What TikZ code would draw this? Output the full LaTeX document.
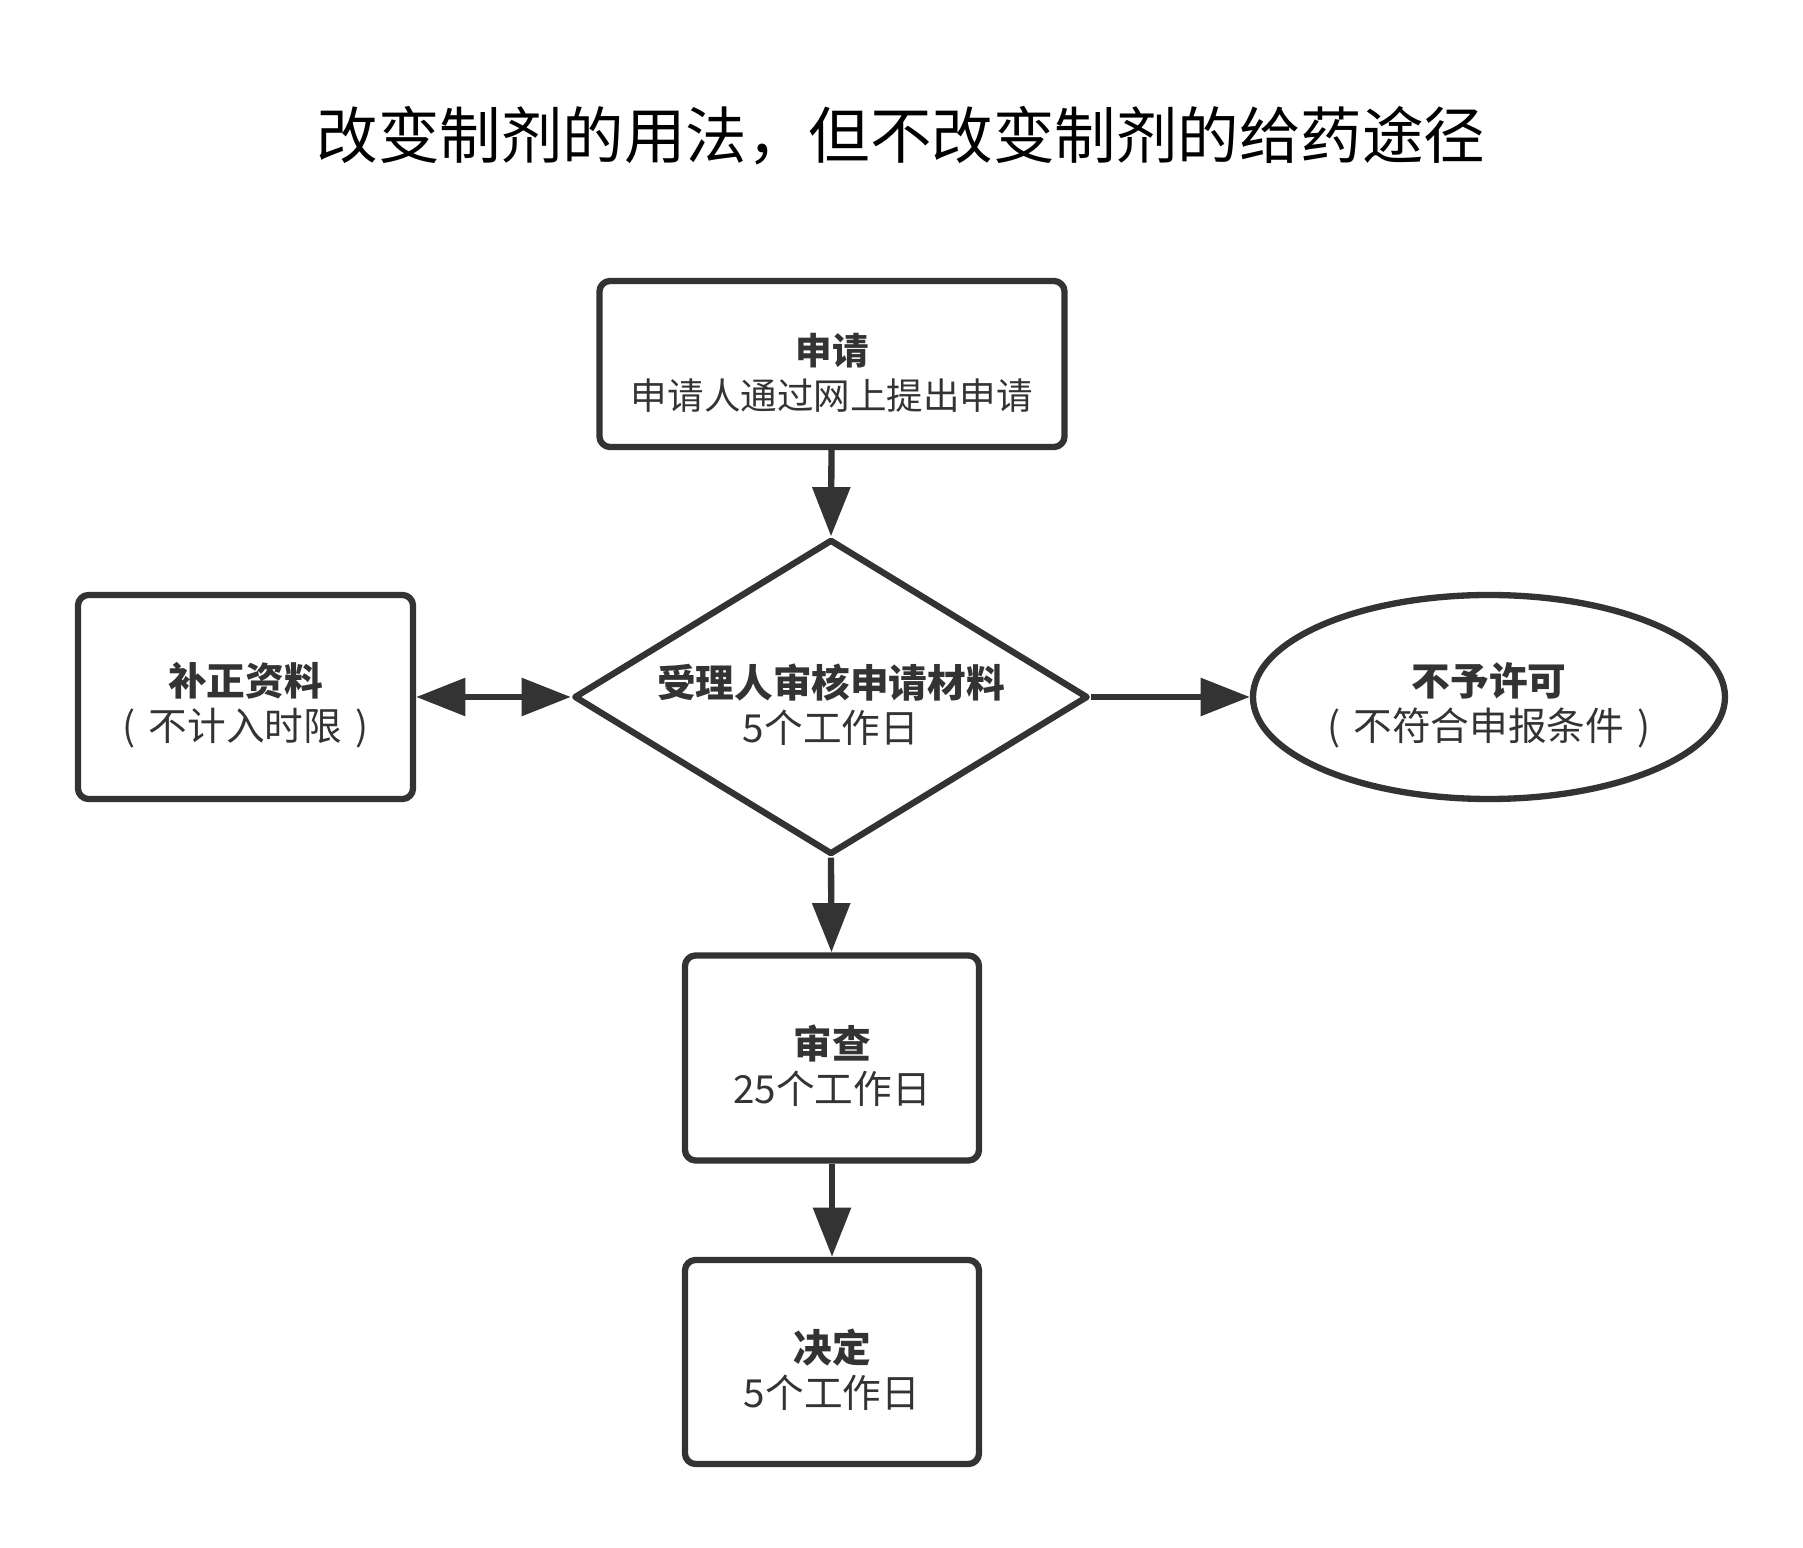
\documentclass[tikz,border=0pt]{standalone}
\usepackage{fontspec}
\setmainfont{Noto Sans CJK SC}
\usetikzlibrary{shapes.geometric,arrows.meta}
\definecolor{ink}{HTML}{333333}
\newcommand{\gap}{\hspace{0.34em}}
\newcommand{\hd}[1]{\rule{0pt}{14pt}\textbf{#1}}
\begin{document}
\begin{tikzpicture}[x=1cm,y=-1cm,>={Triangle[length=14pt,width=10.5pt]}, line join=round,
    font=\fontsize{11}{12.8}\selectfont]
	\tikzset{every node/.style={text=ink, align=center, inner sep=0pt},
		stepbox/.style={draw=ink, line width=1.8pt, rounded corners=3pt, rectangle},
		decision/.style={draw=ink, line width=1.8pt, diamond, aspect=1.62, minimum width=5.14cm, minimum height=3.15cm},
		finish/.style={draw=ink, line width=1.8pt, ellipse, minimum width=4.72cm, minimum height=2.04cm},
		link/.style={draw=ink, line width=1.8pt, ->}}
	\useasboundingbox (0,0) rectangle (18.03,15.48);
	% title
	\node[text=black, font=\fontsize{17.5}{20}\selectfont] (title) at (9.01,1.36) {改变制剂的用法，但不改变制剂的给药途径};
	% boxes
	\node[stepbox, minimum width=4.65cm, minimum height=1.66cm, font=\fontsize{10.4}{12.8}\selectfont] (apply) at (8.32,3.64) {\hd{申请}\\申请人通过网上提出申请};
	\node[decision] (check) at (8.31,6.97) {\hd{受理人审核申请材料}\\5个工作日};
	\node[stepbox, minimum width=3.35cm, minimum height=2.04cm] (fix) at (2.455,6.97) {\hd{补正资料}\\(\gap 不计入时限\gap )};
	\node[finish] (deny) at (14.89,6.97) {\hd{不予许可}\\(\gap 不符合申报条件\gap )};
	\node[stepbox, minimum width=2.94cm, minimum height=2.05cm] (review) at (8.32,10.58) {\hd{审查}\\25个工作日};
	\node[stepbox, minimum width=2.94cm, minimum height=2.04cm] (decide) at (8.32,13.62) {\hd{决定}\\5个工作日};
	% arrows
	\draw[link] (apply) -- (check.north);
	\draw[link, <->] (fix) -- (check.west);
	\draw[link] (check.east) -- (deny);
	\draw[link] (check.south) -- (review);
	\draw[link] (review) -- (decide);
\end{tikzpicture}
\end{document}
